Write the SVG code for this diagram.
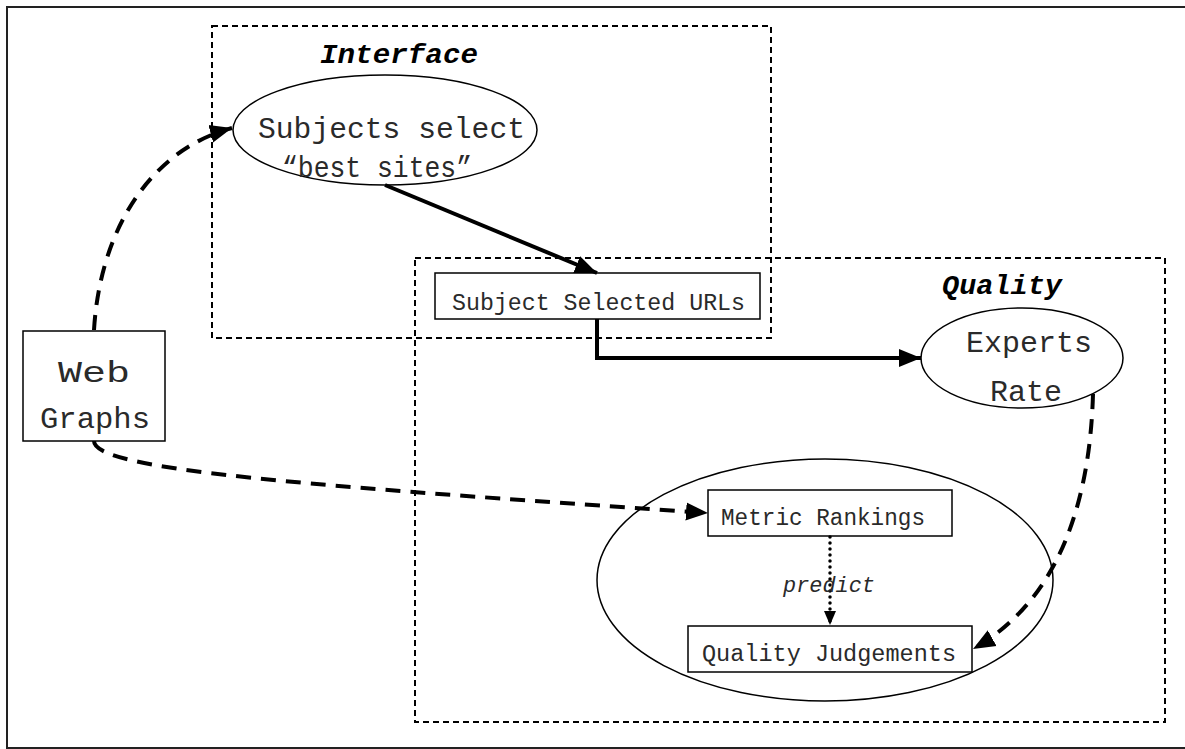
<svg xmlns="http://www.w3.org/2000/svg" width="1185" height="749" viewBox="0 0 1185 749">
  <style>
    .frame { fill: none; stroke: #222; stroke-width: 2; }
    .region { fill: none; stroke: #000; stroke-width: 2; stroke-dasharray: 6 4; }
    .shape { fill: #fff; stroke: #000; stroke-width: 1.5; }
    .txt { font-family: "Liberation Mono", "Courier New", monospace; fill: #2a2a2a; }
    .title { font-family: "Liberation Mono", "Courier New", monospace; font-weight: bold; font-style: italic; fill: #000; }
    .solid { fill: none; stroke: #000; stroke-width: 4; }
    .dashed { fill: none; stroke: #000; stroke-width: 4; stroke-dasharray: 15 10; }
    .dotted { fill: none; stroke: #000; stroke-width: 3.5; stroke-dasharray: 0 6; stroke-linecap: round; }
  </style>
  <defs>
    <marker id="arrow" markerUnits="userSpaceOnUse" markerWidth="24" markerHeight="20" refX="22" refY="10" orient="auto">
      <path d="M0,1 L22,10 L0,19 Z" fill="#000"/>
    </marker>
    <marker id="arrow-small" markerUnits="userSpaceOnUse" markerWidth="16" markerHeight="14" refX="14" refY="7" orient="auto">
      <path d="M0,1 L14,7 L0,13 Z" fill="#000"/>
    </marker>
  </defs>

  <!-- page frame -->
  <rect class="frame" x="7" y="7" width="1190" height="741"/>

  <!-- regions -->
  <g id="region-interface">
    <rect class="region" x="212" y="26" width="559" height="312"/>
    <text class="title" x="320" y="63" font-size="27" textLength="158" lengthAdjust="spacingAndGlyphs">Interface</text>
  </g>
  <g id="region-quality">
    <rect class="region" x="415" y="258" width="750" height="464"/>
    <text class="title" x="942" y="294" font-size="27" textLength="120" lengthAdjust="spacingAndGlyphs">Quality</text>
  </g>

  <!-- nodes -->
  <g id="node-subjects-select">
    <ellipse class="shape" cx="385" cy="130" rx="152" ry="55"/>
    <text class="txt" x="258" y="138" font-size="29" textLength="267" lengthAdjust="spacingAndGlyphs">Subjects select</text>
    <text class="txt" x="282" y="177" font-size="29" textLength="190" lengthAdjust="spacingAndGlyphs">“best sites”</text>
  </g>

  <g id="node-subject-urls">
    <rect class="shape" x="435" y="273" width="325" height="46"/>
    <text class="txt" x="452" y="310" font-size="23" textLength="293" lengthAdjust="spacingAndGlyphs">Subject Selected URLs</text>
  </g>

  <g id="node-experts-rate">
    <ellipse class="shape" cx="1022" cy="358" rx="101" ry="50"/>
    <text class="txt" x="966" y="352" font-size="30" textLength="126" lengthAdjust="spacingAndGlyphs">Experts</text>
    <text class="txt" x="990" y="401" font-size="30" textLength="72" lengthAdjust="spacingAndGlyphs">Rate</text>
  </g>

  <g id="node-web-graphs">
    <rect class="shape" x="23" y="331" width="142" height="110"/>
    <text class="txt" x="58" y="382" font-size="30" textLength="72" lengthAdjust="spacingAndGlyphs">Web</text>
    <text class="txt" x="40" y="428" font-size="30" textLength="110" lengthAdjust="spacingAndGlyphs">Graphs</text>
  </g>

  <g id="node-evaluation">
    <ellipse class="shape" cx="825" cy="580" rx="228" ry="121"/>
  </g>

  <g id="node-metric-rankings">
    <rect class="shape" x="708" y="490" width="244" height="46"/>
    <text class="txt" x="721" y="525" font-size="23" textLength="204" lengthAdjust="spacingAndGlyphs">Metric Rankings</text>
  </g>

  <g id="node-quality-judgements">
    <rect class="shape" x="688" y="626" width="284" height="46"/>
    <text class="txt" x="702" y="661" font-size="23" textLength="254" lengthAdjust="spacingAndGlyphs">Quality Judgements</text>
  </g>

  <!-- connectors -->
  <g id="connectors">
    <path class="solid" d="M385,185 L597,273" marker-end="url(#arrow)"/>
    <path class="solid" d="M597,319 L597,358 L921,358" marker-end="url(#arrow)"/>
    <path class="dashed" d="M94,330 C100,230 150,150 232,128" marker-end="url(#arrow)"/>
    <path class="dashed" d="M94,441 C94,470 300,485 708,513" marker-end="url(#arrow)"/>
    <path class="dashed" d="M1093,394 C1090,500 1060,600 973,649" marker-end="url(#arrow)"/>
    <path class="dotted" d="M830,537 L830,625" marker-end="url(#arrow-small)"/>
    <text class="txt" x="783" y="592" font-size="22" font-style="italic" textLength="92" lengthAdjust="spacingAndGlyphs">predict</text>
  </g>
</svg>
